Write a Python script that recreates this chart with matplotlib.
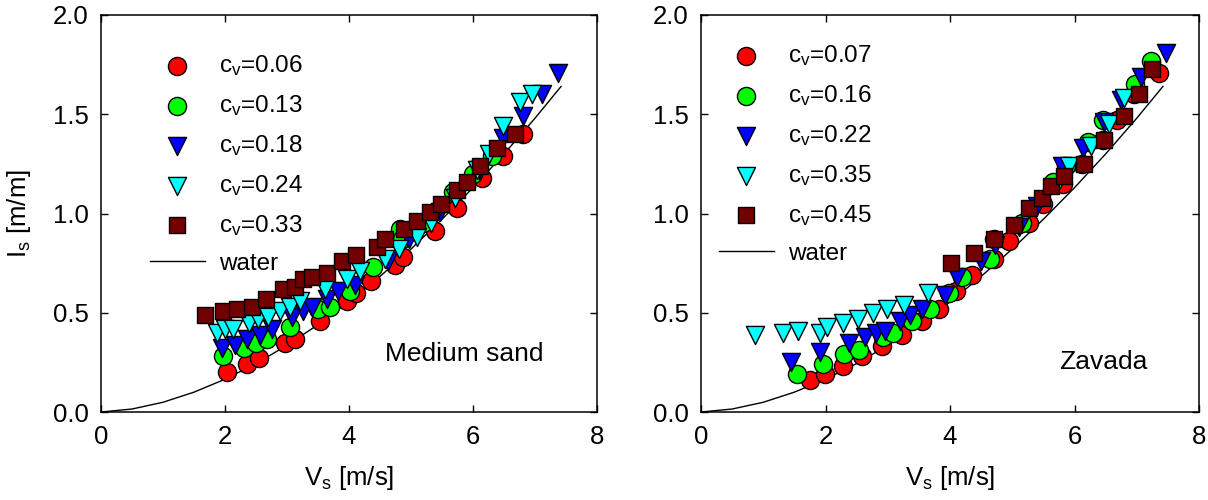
import numpy as np
import matplotlib
matplotlib.use("Agg")
import matplotlib.pyplot as plt

plt.rcParams['font.family'] = ['Liberation Sans', 'DejaVu Sans']
plt.rcParams['mathtext.fontset'] = 'custom'
plt.rcParams['mathtext.rm'] = 'Liberation Sans'
plt.rcParams['mathtext.it'] = 'Liberation Sans'

# clear water friction curve
water_v = [0.0, 0.5, 1.0, 1.5, 2.0, 2.5, 3.0, 3.5, 4.0, 4.5, 5.0, 5.5, 6.0, 6.5, 7.0, 7.42]
water_i = [0.0, 0.015, 0.049, 0.100, 0.165, 0.244, 0.336, 0.440, 0.555, 0.683, 0.821, 0.971, 1.130, 1.300, 1.480, 1.640]

# ---- medium sand ----
sand_labels = ['0.06', '0.13', '0.18', '0.24', '0.33']

sand_v_006 = [2.04, 2.35, 2.55, 2.96, 3.13, 3.53, 3.96, 4.12, 4.35, 4.74, 4.87, 5.39, 5.74, 6.14, 6.49, 6.81]
sand_i_006 = [0.20, 0.24, 0.27, 0.35, 0.37, 0.46, 0.56, 0.60, 0.66, 0.74, 0.78, 0.91, 1.03, 1.18, 1.29, 1.40]

sand_v_013 = [1.96, 2.30, 2.50, 2.67, 3.05, 3.50, 3.69, 4.02, 4.39, 4.82, 4.85, 5.20, 5.68, 6.00, 6.30]
sand_i_013 = [0.28, 0.32, 0.35, 0.37, 0.43, 0.52, 0.53, 0.61, 0.73, 0.92, 0.87, 0.95, 1.11, 1.20, 1.29]

sand_v_018 = [1.95, 2.16, 2.36, 2.56, 2.75, 3.08, 3.26, 3.40, 3.64, 3.83, 4.10, 4.63, 4.96, 5.47, 6.10, 6.49, 6.81, 7.11, 7.37]
sand_i_018 = [0.32, 0.34, 0.37, 0.39, 0.42, 0.48, 0.51, 0.53, 0.57, 0.61, 0.64, 0.76, 0.87, 1.01, 1.22, 1.38, 1.49, 1.60, 1.71]

sand_v_024 = [1.87, 2.00, 2.13, 2.38, 2.54, 2.70, 2.89, 3.05, 3.21, 3.61, 3.96, 4.18, 4.58, 4.80, 5.09, 5.33, 5.71, 6.06, 6.25, 6.49, 6.76, 6.95]
sand_i_024 = [0.40, 0.42, 0.42, 0.45, 0.47, 0.48, 0.51, 0.53, 0.56, 0.62, 0.67, 0.71, 0.77, 0.82, 0.88, 0.95, 1.08, 1.22, 1.30, 1.44, 1.56, 1.60]

sand_v_033 = [1.68, 1.96, 2.20, 2.44, 2.66, 2.94, 3.13, 3.26, 3.40, 3.64, 3.88, 4.12, 4.45, 4.58, 4.88, 5.09, 5.31, 5.49, 5.74, 5.90, 6.11, 6.38, 6.68]
sand_i_033 = [0.49, 0.51, 0.52, 0.53, 0.57, 0.62, 0.63, 0.67, 0.68, 0.70, 0.76, 0.79, 0.83, 0.87, 0.92, 0.96, 1.01, 1.05, 1.12, 1.16, 1.24, 1.33, 1.40]

# ---- Zavada ----
zav_labels = ['0.07', '0.16', '0.22', '0.35', '0.45']

zav_v_007 = [1.75, 1.99, 2.28, 2.58, 2.90, 3.23, 3.55, 3.82, 4.09, 4.35, 4.70, 4.95, 5.27, 5.50, 5.81, 6.12, 6.45, 6.69, 6.96, 7.35]
zav_i_007 = [0.16, 0.19, 0.23, 0.28, 0.33, 0.39, 0.46, 0.52, 0.61, 0.69, 0.77, 0.86, 0.95, 1.05, 1.15, 1.25, 1.37, 1.47, 1.60, 1.71]

zav_v_016 = [1.55, 1.96, 2.29, 2.54, 2.92, 3.09, 3.39, 3.68, 3.98, 4.19, 4.65, 4.70, 5.16, 5.65, 5.86, 6.21, 6.45, 6.97, 7.23]
zav_i_016 = [0.19, 0.24, 0.29, 0.31, 0.38, 0.40, 0.46, 0.52, 0.60, 0.68, 0.77, 0.87, 0.95, 1.16, 1.24, 1.36, 1.47, 1.65, 1.77]

zav_v_022 = [1.45, 1.91, 2.37, 2.64, 2.81, 2.96, 3.20, 3.36, 3.55, 3.92, 4.11, 4.49, 4.73, 5.11, 5.40, 5.80, 6.13, 6.48, 6.75, 7.07, 7.47]
zav_i_022 = [0.25, 0.30, 0.35, 0.38, 0.40, 0.41, 0.46, 0.49, 0.52, 0.59, 0.68, 0.76, 0.84, 0.93, 1.04, 1.24, 1.33, 1.46, 1.57, 1.69, 1.81]

zav_v_035 = [0.86, 1.32, 1.56, 1.91, 2.02, 2.28, 2.53, 2.77, 2.98, 3.26, 3.65, 5.91, 6.26, 6.56, 6.80]
zav_i_035 = [0.39, 0.40, 0.41, 0.40, 0.43, 0.45, 0.47, 0.50, 0.52, 0.54, 0.60, 1.24, 1.34, 1.45, 1.58]

zav_v_045 = [4.01, 4.38, 4.70, 5.03, 5.27, 5.48, 5.62, 5.83, 6.15, 6.48, 6.79, 7.03, 7.25]
zav_i_045 = [0.75, 0.80, 0.87, 0.94, 1.03, 1.08, 1.14, 1.19, 1.25, 1.37, 1.49, 1.60, 1.73]

colors = ['#ff0000', '#00ff00', '#0000ff', '#00ffff', '#720000']
markers = ['o', 'o', 'v', 'v', 's']
sizes = [170, 170, 170, 170, 135]

sand_sets = [(sand_v_006, sand_i_006), (sand_v_013, sand_i_013), (sand_v_018, sand_i_018),
             (sand_v_024, sand_i_024), (sand_v_033, sand_i_033)]
zav_sets = [(zav_v_007, zav_i_007), (zav_v_016, zav_i_016), (zav_v_022, zav_i_022),
            (zav_v_035, zav_i_035), (zav_v_045, zav_i_045)]

fig = plt.figure(figsize=(12.08, 5.0), dpi=100)
ax1 = fig.add_axes([101 / 1208, 88 / 500, 496 / 1208, 397 / 500])
ax2 = fig.add_axes([701 / 1208, 88 / 500, 498 / 1208, 397 / 500])


def draw_panel(ax, sets, labels, name, name_xy, leg_anchor):
    for k, (v, i) in enumerate(sets):
        ax.scatter(v, i, s=sizes[k], c=colors[k], marker=markers[k],
                   edgecolors='black', linewidths=1.0, zorder=3 + k,
                   label=r'c$_\mathregular{v}$=' + labels[k])
    ax.plot(water_v, water_i, color='black', lw=1.0, zorder=2, label='water')

    ax.set_xlim(0, 8)
    ax.set_ylim(0, 2)
    ax.set_xticks([0, 2, 4, 6, 8])
    ax.set_yticks([0.0, 0.5, 1.0, 1.5, 2.0])
    ax.set_yticklabels(['0.0', '0.5', '1.0', '1.5', '2.0'])
    ax.tick_params(direction='in', top=True, right=True, length=5, width=1,
                   labelsize=18.5, pad=9)
    for sp in ax.spines.values():
        sp.set_linewidth(1.1)
    ax.set_xlabel(r'V$_\mathregular{s}$ [m/s]', fontsize=18.5, labelpad=11)

    ax.text(name_xy[0], name_xy[1], name, fontsize=19, ha='left', va='center')

    ax.legend(loc='upper left', bbox_to_anchor=leg_anchor, frameon=False,
              fontsize=17.5, labelspacing=0.62, handlelength=2.26,
              handletextpad=0.58, borderpad=0, borderaxespad=0,
              scatterpoints=1)


draw_panel(ax1, sand_sets, sand_labels, 'Medium sand', (4.58, 0.29), (49 / 496, 1 - 38 / 397))
draw_panel(ax2, zav_sets, zav_labels, 'Zavada', (5.75, 0.25), (18 / 498, 1 - 28 / 397))
ax1.set_ylabel(r'I$_\mathregular{s}$ [m/m]', fontsize=18.5, labelpad=14)

fig.savefig('out.png', dpi=100)
